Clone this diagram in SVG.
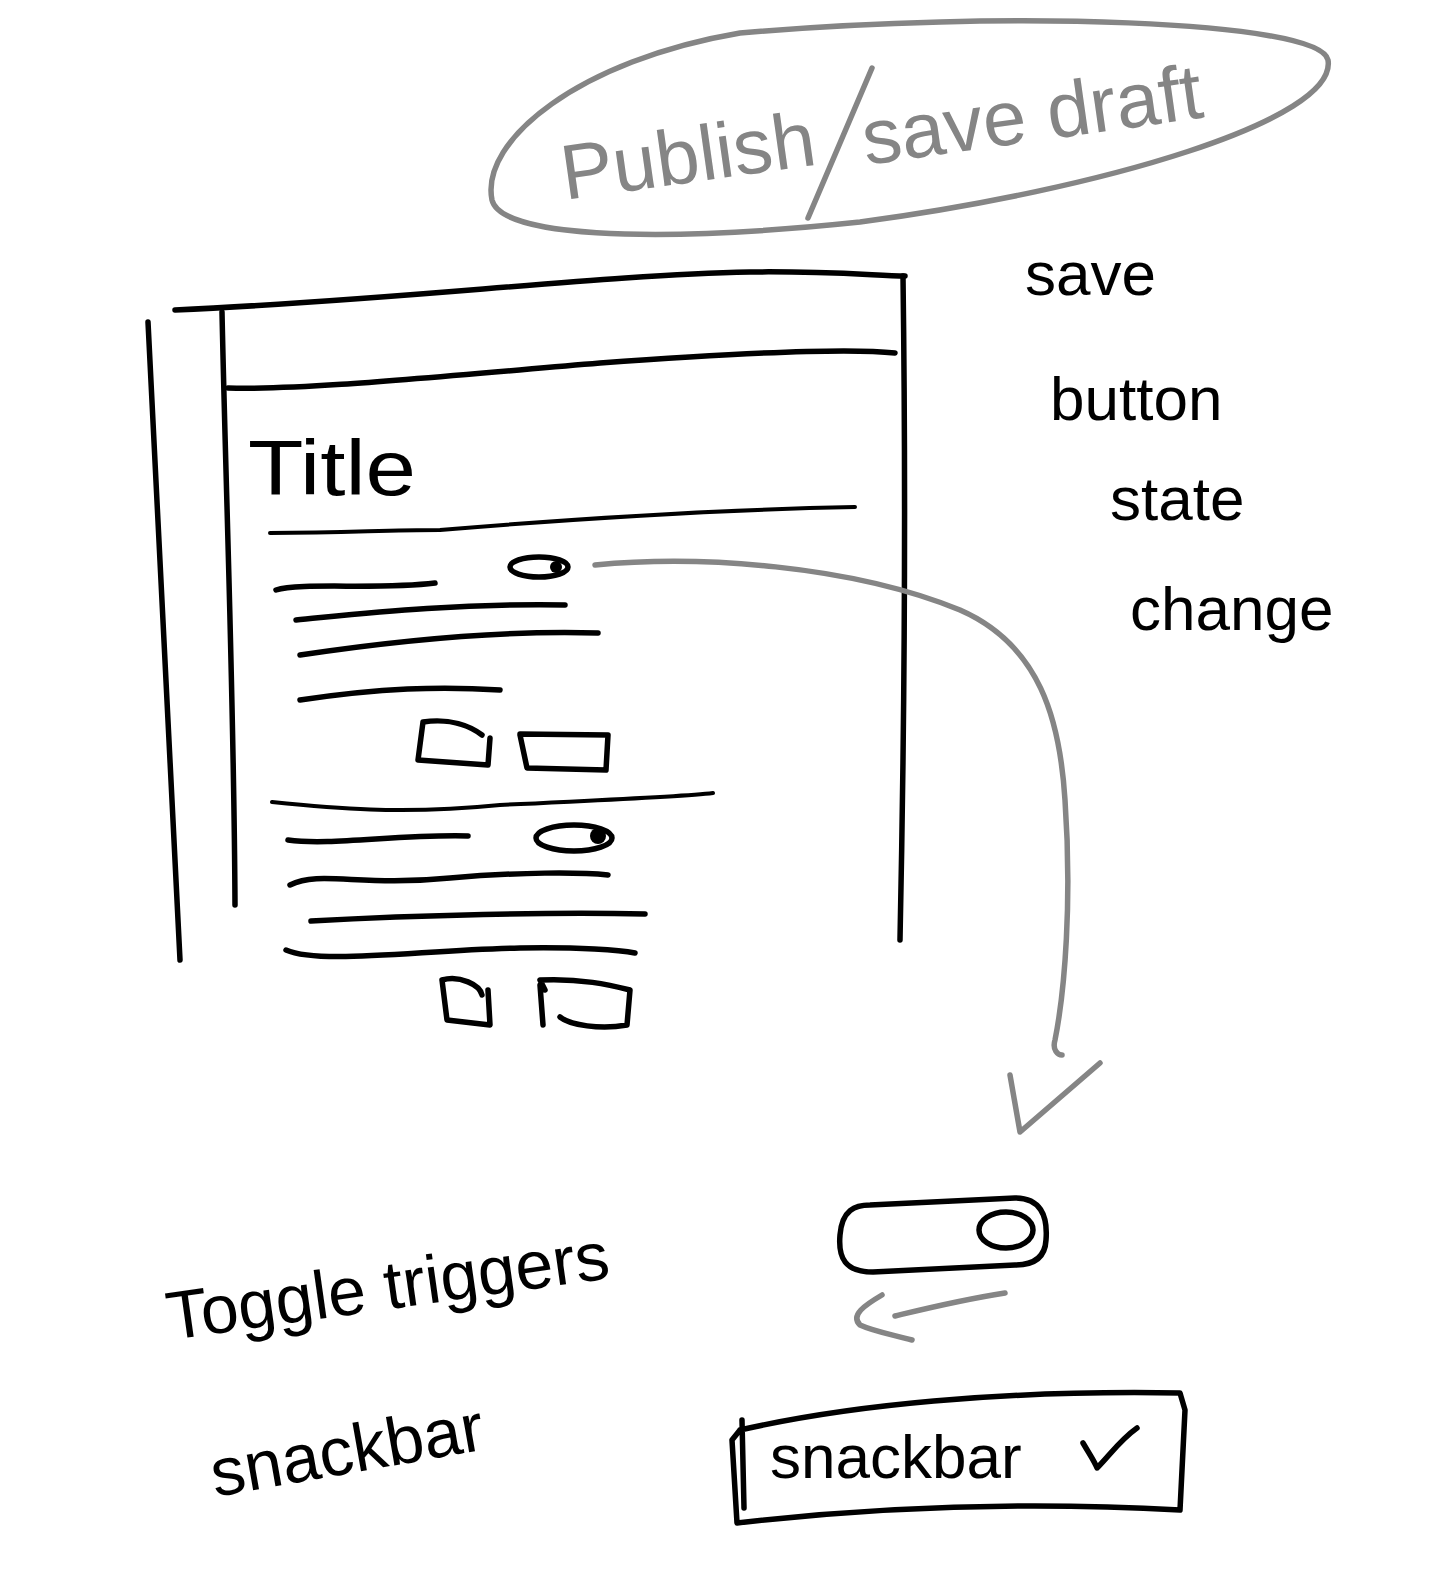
<svg xmlns="http://www.w3.org/2000/svg" width="1438" height="1574" viewBox="0 0 1438 1574">
<style>
.ink{fill:none;stroke:#000;stroke-width:5.5;stroke-linecap:round;stroke-linejoin:round}
.thin{fill:none;stroke:#000;stroke-width:4;stroke-linecap:round;stroke-linejoin:round}
.grey{fill:none;stroke:#858585;stroke-width:5.5;stroke-linecap:round;stroke-linejoin:round}
.hand{font-family:"Liberation Sans","DejaVu Sans",sans-serif;fill:#000}
.ghand{font-family:"Liberation Sans","DejaVu Sans",sans-serif;fill:#858585}
</style>
<rect width="1438" height="1574" fill="#fff"/>

<g id="publish">
<path class="grey" d="M740,33 C1000,10 1320,20 1328,60 C1338,120 1100,190 860,222 C640,245 500,235 492,200 C480,140 580,60 740,33"/>
<text class="ghand" x="565" y="200" font-size="78" transform="rotate(-8 565 200)">Publish</text>
<path class="grey" d="M872,68 L808,218"/>
<text class="ghand" x="866" y="165" font-size="78" transform="rotate(-8 866 165)">save draft</text>
</g>

<g id="annotation">
<text class="hand" x="1025" y="295" font-size="62">save</text>
<text class="hand" x="1050" y="420" font-size="62">button</text>
<text class="hand" x="1110" y="520" font-size="62">state</text>
<text class="hand" x="1130" y="630" font-size="62">change</text>
</g>

<g id="editor">
<path class="ink" d="M175,310 C400,300 600,275 750,272 C820,271 870,275 905,276"/>
<path class="ink" d="M148,322 C155,500 165,700 180,960"/>
<path class="ink" d="M222,312 C226,500 234,700 235,905"/>
<path class="ink" d="M903,276 C906,500 905,700 900,940"/>
<path class="ink" d="M228,388 C300,390 400,380 600,363 C750,352 850,348 895,353"/>
<text class="hand" x="248" y="495" font-size="78" textLength="168" lengthAdjust="spacingAndGlyphs">Title</text>
<path class="thin" d="M270,533 C350,533 380,530 440,530 C560,520 700,510 855,507"/>
<path class="ink" d="M276,590 C300,582 380,590 435,583"/>
<ellipse class="ink" cx="539" cy="567" rx="29" ry="10"/>
<circle cx="556" cy="567" r="6" fill="#000"/>
<path class="ink" d="M296,620 C350,615 450,603 565,605"/>
<path class="ink" d="M300,655 C400,640 500,630 598,633"/>
<path class="ink" d="M300,700 C380,688 440,686 500,690"/>
<path class="ink" d="M423,722 L418,760 L488,765 L490,738 M423,722 C450,718 470,726 482,735"/>
<path class="ink" d="M520,735 L527,768 L606,770 L608,735 L520,734"/>
<path class="thin" d="M272,802 C330,808 400,815 500,805 C600,800 680,797 713,793"/>
<path class="ink" d="M288,840 C330,846 400,834 468,836"/>
<ellipse class="ink" cx="574" cy="838" rx="38" ry="13"/>
<circle cx="598" cy="836" r="8" fill="#000"/>
<path class="ink" d="M290,885 C320,870 360,887 450,878 C520,872 580,872 608,875"/>
<path class="ink" d="M311,921 C420,915 550,912 645,914"/>
<path class="ink" d="M286,950 C320,965 420,950 520,948 C580,947 620,950 635,953"/>
<path class="ink" d="M442,980 L447,1020 L490,1025 L488,990 M442,980 C460,975 480,985 482,995"/>
<path class="ink" d="M540,985 L543,1025 M545,990 L540,980 C580,978 610,985 630,990 L627,1025 C600,1030 570,1025 560,1017"/>
</g>

<g id="toggle">
<path class="ink" d="M870,1205 L1015,1198 C1040,1198 1048,1215 1046,1240 C1045,1260 1030,1265 1015,1265 L873,1272 C845,1272 838,1258 840,1235 C842,1210 855,1205 870,1205 Z"/>
<ellipse class="ink" cx="1006" cy="1230" rx="27" ry="18" stroke-width="7"/>
</g>

<g id="snackbar">
<path class="ink" d="M740,1430 C850,1405 1000,1390 1180,1393 L1185,1410 L1180,1510 C1000,1500 850,1510 737,1523 L732,1440 L740,1430 M742,1420 L744,1508"/>
<text class="hand" x="770" y="1478" font-size="62">snackbar</text>
<path class="ink" d="M1083,1443 C1090,1455 1095,1462 1097,1468 C1110,1455 1120,1440 1137,1428"/>
</g>

<g id="label">
<text class="hand" x="170" y="1340" font-size="68" transform="rotate(-8 170 1340)">Toggle triggers</text>
<text class="hand" x="215" y="1497" font-size="68" transform="rotate(-10 215 1497)">snackbar</text>
</g>

<g id="connectors">
<path class="grey" d="M595,565 C700,555 850,565 960,610 C1040,645 1060,720 1065,800 C1072,900 1065,990 1055,1040 C1052,1050 1058,1055 1062,1055"/>
<path class="grey" d="M1010,1075 L1020,1132 L1100,1063"/>
<path class="grey" d="M1005,1293 C960,1300 920,1310 895,1316"/>
<path class="grey" d="M882,1295 C865,1305 850,1315 860,1325 C875,1332 895,1335 912,1340"/>
</g>
</svg>
